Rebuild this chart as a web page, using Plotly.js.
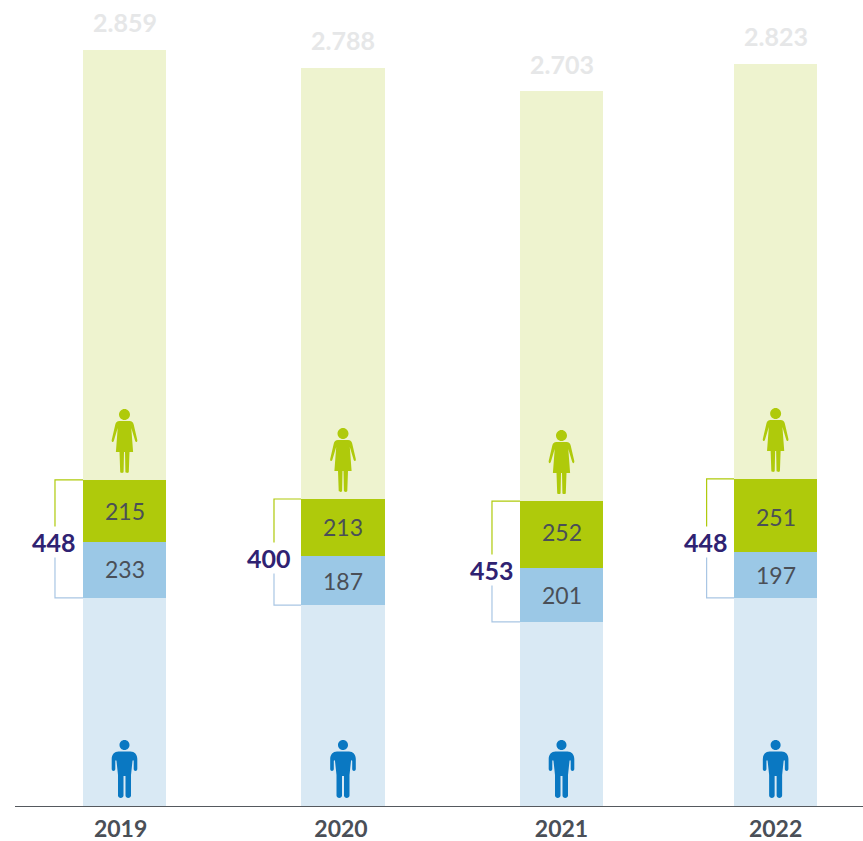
<!DOCTYPE html>
<html><head><meta charset="utf-8">
<script src="https://cdn.plot.ly/plotly-3.0.0.min.js"></script>
<style>html,body{margin:0;padding:0;background:#fff}#c{width:863px;height:841px}</style>
</head><body><div id="c"></div>
<script>
const years = ['2019','2020','2021','2022'];
const xpos = [2019, 2020, 2021, 2021.98];
const tickpos = [2018.982, 2019.991, 2021, 2021.98];
const menRest = [787, 760, 696, 787];
const menHighlight = [212, 185, 204, 174];
const womenHighlight = [234, 216, 253, 276];
const womenRest = [1626, 1630, 1550, 1570];
const menLabels = ['233','187','201','197'];
const womenLabels = ['215','213','252','251'];
const sumLabels = ['448','400','453','448'];
const totalLabels = ['2.859','2.788','2.703','2.823'];

const WOMAN = 'M0,64 C3,64 5.5,61.5 5.5,58.5 C5.5,55.5 3,53 0,53 C-3,53 -5.5,55.5 -5.5,58.5 C-5.5,61.5 -3,64 0,64 Z '+
 'M-5,52 L5,52 C7.5,52 8.6,50.5 9.2,48.5 L12.8,33 C13.2,31 11.4,30 10.7,32 L6.8,45 L8.6,21 L5,21 L4.3,1.2 C4.2,-0.4 1,-0.4 0.9,1.2 L0.5,21 L-0.5,21 L-0.9,1.2 C-1,-0.4 -4.2,-0.4 -4.3,1.2 L-5,21 L-8.6,21 L-6.8,45 L-10.7,32 C-11.4,30 -13.2,31 -12.8,33 L-9.2,48.5 C-8.6,50.5 -7.5,52 -5,52 Z';
const MAN = 'M0,58 C2.9,58 5,55.8 5,53 C5,50.2 2.9,48 0,48 C-2.9,48 -5,50.2 -5,53 C-5,55.8 -2.9,58 0,58 Z '+
 'M-6,46.5 L6,46.5 C10,46.5 12.8,43.5 12.8,39 L12.8,29 C12.8,26.5 9.2,26.5 9.2,29 L9.2,37 C9.2,38 8,38 8,37 L6.5,23 L6.5,2.5 C6.5,-0.8 1,-0.8 1,2.5 L1,22 L-1,22 L-1,2.5 C-1,-0.8 -6.5,-0.8 -6.5,2.5 L-6.5,23 L-8,37 C-8,38 -9.2,38 -9.2,37 L-9.2,29 C-9.2,26.5 -12.8,26.5 -12.8,29 L-12.8,39 C-12.8,43.5 -10,46.5 -6,46.5 Z';

const barW = 0.38;
const FONT = 'Lato, sans-serif';
const DARK = '#4a4f57';
function bar(y, color) {
  return {type:'bar', x:xpos, y:y, width:barW, marker:{color:color, line:{width:0}},
    hoverinfo:'skip', showlegend:false};
}
const traces = [
  bar(menRest,'#d9e9f4'),
  bar(menHighlight,'#9bc8e6'),
  bar(womenHighlight,'#afca0b'),
  bar(womenRest,'#eef3cf')
];
const shapes = [], annotations = [];
const bracketGap = [28, 27.5, 28, 27.5];
const sumShiftX = [0, -4, 1, 0];
const sumShiftY = [0, -2, -2, 10];
const menShiftY = [1, 0, 0, 0];
const womenShiftY = [0, 1, 3, -2];
const totalShiftY = [28, 28, 27, 28];
const px = 218.5; // pixels per x unit
function label(x, y, text, size, weight, color, xs, ys, extra) {
  annotations.push(Object.assign({xref:'x', yref:'y', x, y, text, showarrow:false, xshift:xs, yshift:ys,
    font:{family:FONT, size, weight, color}, xanchor:'center', yanchor:'middle'}, extra||{}));
}
xpos.forEach((x,i)=>{
  const y0 = menRest[i], y1 = y0+menHighlight[i], y2 = y1+womenHighlight[i], y3 = y2+womenRest[i];
  const edge = x-barW/2, bx = edge-bracketGap[i]/px;
  shapes.push({type:'path', layer:'below', xref:'x', yref:'y', line:{color:'#afca0b',width:1.2},
    path:`M${edge},${y2} L${bx},${y2} L${bx},${y1}`});
  shapes.push({type:'path', layer:'below', xref:'x', yref:'y', line:{color:'#a9c6e4',width:1.2},
    path:`M${edge},${y0} L${bx},${y0} L${bx},${y1}`});
  label(bx, y1, sumLabels[i], 25, 700, '#2f2272', sumShiftX[i]-0.5, sumShiftY[i], {bgcolor:'#ffffff', borderpad:0});
  label(x, (y0+y1)/2, menLabels[i], 23, 400, DARK, 0, menShiftY[i]);
  label(x, (y1+y2)/2, womenLabels[i], 23, 400, DARK, 0, womenShiftY[i]);
  label(x, y3, totalLabels[i], 25, 700, '#e6e7e8', 0, totalShiftY[i]);
  shapes.push({type:'path', xsizemode:'pixel', ysizemode:'pixel', xanchor:x, yanchor:y2, xref:'x', yref:'y',
    path:WOMAN.replace(/(-?[\d.]+),(-?[\d.]+)/g,(m,a,b)=>`${a},${+b+7}`), fillcolor:'#afca0b', line:{width:0}});
  shapes.push({type:'path', xsizemode:'pixel', ysizemode:'pixel', xanchor:x, yanchor:0, xref:'x', yref:'y',
    path:MAN.replace(/(-?[\d.]+),(-?[\d.]+)/g,(m,a,b)=>`${a},${+b+8}`), fillcolor:'#0a78c2', line:{width:0}});
});
const layout = {
  width:863, height:841, margin:{l:15,r:0,t:0,b:35}, paper_bgcolor:'#fff', plot_bgcolor:'#fff',
  barmode:'stack', showlegend:false, bargap:0,
  font:{family:FONT},
  xaxis:{type:'linear', range:[2019-109.5/218.5, 2019+738.5/218.5], tickvals:tickpos, ticktext:years,
    showgrid:false, zeroline:false, showline:true, linecolor:'#55595e', linewidth:1, ticks:'',
    tickfont:{family:FONT, size:23, weight:700, color:DARK}, ticklabelstandoff:2},
  yaxis:{range:[0,3048], visible:false, showgrid:false, zeroline:false},
  shapes, annotations
};
Plotly.newPlot('c', traces, layout, {displayModeBar:false, staticPlot:true});
</script></body></html>
